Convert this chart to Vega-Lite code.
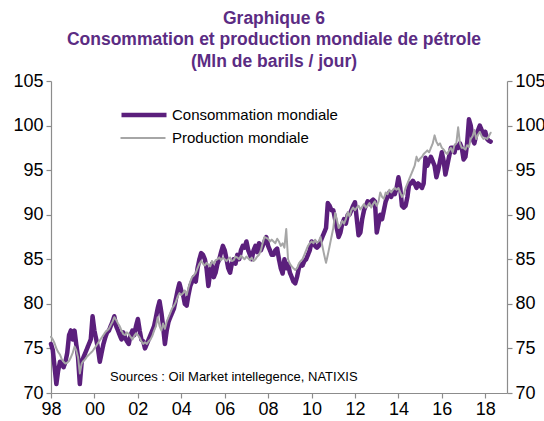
{
  "$schema": "https://vega.github.io/schema/vega-lite/v6.json",
  "width": 456,
  "height": 312,
  "autosize": {"type": "none"},
  "padding": {"left": 51, "top": 81, "right": 37, "bottom": 28},
  "background": "white",
  "config": {
    "view": {"stroke": null},
    "font": "Liberation Sans",
    "axis": {"grid": false, "domainColor": "#8c8c8c", "tickColor": "#8c8c8c", "labelColor": "#000000", "labelFont": "Liberation Sans", "labelFontSize": 18, "tickSize": 5, "domainWidth": 1.2, "tickWidth": 1.2, "title": null}
  },
  "title": {
    "text": ["Graphique 6", "Consommation et production mondiale de pétrole", "(Mln de barils / jour)"],
    "font": "Liberation Sans",
    "fontSize": 17.5,
    "fontWeight": "bold",
    "color": "#5B2C83",
    "anchor": "middle",
    "lineHeight": 21.5,
    "offset": 2,
    "dx": -5
  },
  "datasets": {
    "oil": [
      {"d":"1998-01-01","c":75.5,"p":76.3},{"d":"1998-02-01","c":74.8,"p":76.0},{"d":"1998-03-01","c":73.0,"p":75.6},{"d":"1998-04-01","c":71.0,"p":75.0},{"d":"1998-05-01","c":72.5,"p":74.6},{"d":"1998-06-01","c":73.5,"p":74.3},{"d":"1998-07-01","c":73.2,"p":73.8},{"d":"1998-08-01","c":72.9,"p":73.5},{"d":"1998-09-01","c":73.5,"p":73.3},{"d":"1998-10-01","c":74.5,"p":73.4},{"d":"1998-11-01","c":76.5,"p":73.6},{"d":"1998-12-01","c":77.0,"p":74.0},
      {"d":"1999-01-01","c":76.0,"p":74.5},{"d":"1999-02-01","c":77.0,"p":75.2},{"d":"1999-03-01","c":75.5,"p":74.8},{"d":"1999-04-01","c":74.0,"p":74.0},{"d":"1999-05-01","c":71.0,"p":72.2},{"d":"1999-06-01","c":73.5,"p":73.3},{"d":"1999-07-01","c":74.0,"p":73.6},{"d":"1999-08-01","c":74.5,"p":73.8},{"d":"1999-09-01","c":75.0,"p":74.1},{"d":"1999-10-01","c":75.5,"p":74.3},{"d":"1999-11-01","c":76.0,"p":74.5},{"d":"1999-12-01","c":78.6,"p":74.7},
      {"d":"2000-01-01","c":77.0,"p":75.0},{"d":"2000-02-01","c":76.0,"p":75.3},{"d":"2000-03-01","c":75.0,"p":75.6},{"d":"2000-04-01","c":73.5,"p":75.9},{"d":"2000-05-01","c":74.5,"p":76.2},{"d":"2000-06-01","c":75.5,"p":76.5},{"d":"2000-07-01","c":76.2,"p":76.8},{"d":"2000-08-01","c":76.8,"p":77.0},{"d":"2000-09-01","c":77.0,"p":77.2},{"d":"2000-10-01","c":77.5,"p":77.6},{"d":"2000-11-01","c":78.0,"p":78.0},{"d":"2000-12-01","c":78.6,"p":78.5},
      {"d":"2001-01-01","c":77.5,"p":78.2},{"d":"2001-02-01","c":77.0,"p":77.8},{"d":"2001-03-01","c":76.5,"p":77.5},{"d":"2001-04-01","c":76.0,"p":77.0},{"d":"2001-05-01","c":76.8,"p":76.6},{"d":"2001-06-01","c":76.2,"p":76.5},{"d":"2001-07-01","c":75.8,"p":76.8},{"d":"2001-08-01","c":75.5,"p":76.6},{"d":"2001-09-01","c":76.5,"p":76.3},{"d":"2001-10-01","c":77.0,"p":76.0},{"d":"2001-11-01","c":76.5,"p":76.4},{"d":"2001-12-01","c":77.5,"p":76.7},
      {"d":"2002-01-01","c":78.3,"p":76.5},{"d":"2002-02-01","c":77.0,"p":76.2},{"d":"2002-03-01","c":76.0,"p":75.8},{"d":"2002-04-01","c":75.8,"p":75.5},{"d":"2002-05-01","c":75.0,"p":75.7},{"d":"2002-06-01","c":75.5,"p":75.5},{"d":"2002-07-01","c":76.0,"p":75.8},{"d":"2002-08-01","c":76.5,"p":76.0},{"d":"2002-09-01","c":77.0,"p":76.4},{"d":"2002-10-01","c":77.5,"p":77.0},{"d":"2002-11-01","c":78.5,"p":77.5},{"d":"2002-12-01","c":79.5,"p":78.5},
      {"d":"2003-01-01","c":80.3,"p":77.5},{"d":"2003-02-01","c":79.0,"p":77.0},{"d":"2003-03-01","c":77.5,"p":77.8},{"d":"2003-04-01","c":75.5,"p":77.2},{"d":"2003-05-01","c":77.0,"p":78.0},{"d":"2003-06-01","c":78.0,"p":78.5},{"d":"2003-07-01","c":78.5,"p":79.0},{"d":"2003-08-01","c":79.0,"p":79.5},{"d":"2003-09-01","c":79.5,"p":79.8},{"d":"2003-10-01","c":80.5,"p":80.2},{"d":"2003-11-01","c":81.5,"p":80.8},{"d":"2003-12-01","c":82.3,"p":81.2},
      {"d":"2004-01-01","c":81.5,"p":81.0},{"d":"2004-02-01","c":81.0,"p":81.2},{"d":"2004-03-01","c":80.0,"p":81.5},{"d":"2004-04-01","c":79.8,"p":81.0},{"d":"2004-05-01","c":81.0,"p":81.8},{"d":"2004-06-01","c":82.0,"p":82.5},{"d":"2004-07-01","c":82.5,"p":83.0},{"d":"2004-08-01","c":83.0,"p":83.2},{"d":"2004-09-01","c":82.5,"p":83.5},{"d":"2004-10-01","c":84.0,"p":84.0},{"d":"2004-11-01","c":85.0,"p":84.5},{"d":"2004-12-01","c":85.7,"p":84.8},
      {"d":"2005-01-01","c":85.5,"p":84.5},{"d":"2005-02-01","c":85.0,"p":84.3},{"d":"2005-03-01","c":84.0,"p":84.6},{"d":"2005-04-01","c":82.0,"p":84.4},{"d":"2005-05-01","c":83.5,"p":84.2},{"d":"2005-06-01","c":84.5,"p":84.8},{"d":"2005-07-01","c":83.0,"p":84.5},{"d":"2005-08-01","c":83.5,"p":84.9},{"d":"2005-09-01","c":84.5,"p":85.0},{"d":"2005-10-01","c":85.0,"p":85.2},{"d":"2005-11-01","c":85.8,"p":84.9},{"d":"2005-12-01","c":86.5,"p":85.2},
      {"d":"2006-01-01","c":86.0,"p":85.0},{"d":"2006-02-01","c":85.0,"p":84.8},{"d":"2006-03-01","c":84.0,"p":85.0},{"d":"2006-04-01","c":83.5,"p":85.2},{"d":"2006-05-01","c":84.5,"p":84.8},{"d":"2006-06-01","c":85.0,"p":84.9},{"d":"2006-07-01","c":84.5,"p":85.3},{"d":"2006-08-01","c":85.5,"p":85.2},{"d":"2006-09-01","c":85.0,"p":85.0},{"d":"2006-10-01","c":86.0,"p":85.4},{"d":"2006-11-01","c":86.5,"p":85.2},{"d":"2006-12-01","c":86.3,"p":85.0},
      {"d":"2007-01-01","c":87.0,"p":85.3},{"d":"2007-02-01","c":86.0,"p":85.1},{"d":"2007-03-01","c":85.5,"p":84.9},{"d":"2007-04-01","c":85.0,"p":85.2},{"d":"2007-05-01","c":86.0,"p":84.8},{"d":"2007-06-01","c":86.5,"p":85.0},{"d":"2007-07-01","c":85.8,"p":85.3},{"d":"2007-08-01","c":86.8,"p":85.5},{"d":"2007-09-01","c":86.0,"p":86.0},{"d":"2007-10-01","c":86.5,"p":86.8},{"d":"2007-11-01","c":87.0,"p":87.5},{"d":"2007-12-01","c":87.5,"p":87.4},
      {"d":"2008-01-01","c":86.5,"p":87.3},{"d":"2008-02-01","c":86.0,"p":87.0},{"d":"2008-03-01","c":85.5,"p":87.2},{"d":"2008-04-01","c":85.5,"p":87.0},{"d":"2008-05-01","c":86.0,"p":86.8},{"d":"2008-06-01","c":86.2,"p":87.3},{"d":"2008-07-01","c":85.0,"p":87.0},{"d":"2008-08-01","c":84.0,"p":86.5},{"d":"2008-09-01","c":83.4,"p":86.8},{"d":"2008-10-01","c":85.0,"p":86.3},{"d":"2008-11-01","c":84.0,"p":88.4},{"d":"2008-12-01","c":84.5,"p":85.0},
      {"d":"2009-01-01","c":83.5,"p":84.5},{"d":"2009-02-01","c":83.0,"p":84.2},{"d":"2009-03-01","c":82.5,"p":84.0},{"d":"2009-04-01","c":82.3,"p":83.8},{"d":"2009-05-01","c":83.0,"p":84.0},{"d":"2009-06-01","c":84.0,"p":84.5},{"d":"2009-07-01","c":84.5,"p":84.8},{"d":"2009-08-01","c":84.3,"p":85.0},{"d":"2009-09-01","c":84.8,"p":85.5},{"d":"2009-10-01","c":85.0,"p":86.0},{"d":"2009-11-01","c":85.5,"p":86.5},{"d":"2009-12-01","c":86.0,"p":86.8},
      {"d":"2010-01-01","c":87.0,"p":87.0},{"d":"2010-02-01","c":86.8,"p":86.8},{"d":"2010-03-01","c":86.5,"p":87.2},{"d":"2010-04-01","c":86.3,"p":86.9},{"d":"2010-05-01","c":86.5,"p":87.0},{"d":"2010-06-01","c":87.0,"p":87.5},{"d":"2010-07-01","c":87.5,"p":86.5},{"d":"2010-08-01","c":88.0,"p":85.5},{"d":"2010-09-01","c":88.5,"p":84.6},{"d":"2010-10-01","c":91.3,"p":85.5},{"d":"2010-11-01","c":91.0,"p":86.5},{"d":"2010-12-01","c":90.5,"p":87.5},
      {"d":"2011-01-01","c":90.5,"p":88.5},{"d":"2011-02-01","c":89.5,"p":90.2},{"d":"2011-03-01","c":88.5,"p":89.5},{"d":"2011-04-01","c":87.5,"p":88.5},{"d":"2011-05-01","c":88.0,"p":88.8},{"d":"2011-06-01","c":89.0,"p":89.3},{"d":"2011-07-01","c":89.5,"p":89.0},{"d":"2011-08-01","c":89.0,"p":89.5},{"d":"2011-09-01","c":90.0,"p":90.3},{"d":"2011-10-01","c":90.0,"p":89.8},{"d":"2011-11-01","c":90.5,"p":90.5},{"d":"2011-12-01","c":91.0,"p":90.8},
      {"d":"2012-01-01","c":91.4,"p":90.5},{"d":"2012-02-01","c":89.5,"p":90.8},{"d":"2012-03-01","c":87.7,"p":91.0},{"d":"2012-04-01","c":88.0,"p":90.6},{"d":"2012-05-01","c":89.5,"p":90.9},{"d":"2012-06-01","c":90.5,"p":91.2},{"d":"2012-07-01","c":91.0,"p":90.8},{"d":"2012-08-01","c":91.5,"p":91.0},{"d":"2012-09-01","c":91.2,"p":91.3},{"d":"2012-10-01","c":91.5,"p":90.8},{"d":"2012-11-01","c":91.7,"p":91.2},{"d":"2012-12-01","c":91.5,"p":91.5},
      {"d":"2013-01-01","c":88.0,"p":91.0},{"d":"2013-02-01","c":89.0,"p":91.5},{"d":"2013-03-01","c":90.0,"p":92.5},{"d":"2013-04-01","c":89.5,"p":92.0},{"d":"2013-05-01","c":90.5,"p":91.8},{"d":"2013-06-01","c":91.5,"p":92.5},{"d":"2013-07-01","c":92.0,"p":92.3},{"d":"2013-08-01","c":92.5,"p":92.8},{"d":"2013-09-01","c":92.0,"p":92.5},{"d":"2013-10-01","c":92.5,"p":92.8},{"d":"2013-11-01","c":92.3,"p":93.0},{"d":"2013-12-01","c":93.0,"p":92.8},
      {"d":"2014-01-01","c":94.2,"p":93.0},{"d":"2014-02-01","c":93.0,"p":92.5},{"d":"2014-03-01","c":91.0,"p":92.0},{"d":"2014-04-01","c":90.8,"p":92.3},{"d":"2014-05-01","c":91.0,"p":93.0},{"d":"2014-06-01","c":92.0,"p":93.5},{"d":"2014-07-01","c":93.5,"p":94.0},{"d":"2014-08-01","c":93.5,"p":94.5},{"d":"2014-09-01","c":93.8,"p":95.0},{"d":"2014-10-01","c":93.5,"p":95.5},{"d":"2014-11-01","c":93.0,"p":96.5},{"d":"2014-12-01","c":93.5,"p":96.0},
      {"d":"2015-01-01","c":93.3,"p":96.3},{"d":"2015-02-01","c":93.0,"p":96.5},{"d":"2015-03-01","c":93.5,"p":96.8},{"d":"2015-04-01","c":96.4,"p":97.0},{"d":"2015-05-01","c":95.5,"p":97.2},{"d":"2015-06-01","c":96.0,"p":97.0},{"d":"2015-07-01","c":96.5,"p":97.5},{"d":"2015-08-01","c":96.0,"p":98.0},{"d":"2015-09-01","c":95.5,"p":98.9},{"d":"2015-10-01","c":94.2,"p":98.2},{"d":"2015-11-01","c":95.0,"p":97.8},{"d":"2015-12-01","c":96.0,"p":98.0},
      {"d":"2016-01-01","c":97.0,"p":97.5},{"d":"2016-02-01","c":96.0,"p":97.3},{"d":"2016-03-01","c":94.5,"p":97.0},{"d":"2016-04-01","c":95.5,"p":96.8},{"d":"2016-05-01","c":96.5,"p":97.2},{"d":"2016-06-01","c":97.5,"p":97.5},{"d":"2016-07-01","c":97.5,"p":97.0},{"d":"2016-08-01","c":97.0,"p":97.8},{"d":"2016-09-01","c":97.8,"p":98.0},{"d":"2016-10-01","c":97.5,"p":99.8},{"d":"2016-11-01","c":98.0,"p":98.0},{"d":"2016-12-01","c":97.5,"p":97.5},
      {"d":"2017-01-01","c":96.2,"p":97.5},{"d":"2017-02-01","c":96.5,"p":97.3},{"d":"2017-03-01","c":98.0,"p":97.8},{"d":"2017-04-01","c":100.7,"p":97.6},{"d":"2017-05-01","c":100.0,"p":98.5},{"d":"2017-06-01","c":98.5,"p":98.8},{"d":"2017-07-01","c":98.0,"p":99.5},{"d":"2017-08-01","c":99.0,"p":98.5},{"d":"2017-09-01","c":99.5,"p":99.0},{"d":"2017-10-01","c":100.0,"p":99.3},{"d":"2017-11-01","c":99.5,"p":98.8},{"d":"2017-12-01","c":99.0,"p":98.5},
      {"d":"2018-01-01","c":99.3,"p":98.6},{"d":"2018-02-01","c":98.5,"p":98.5},{"d":"2018-03-01","c":98.3,"p":98.8},{"d":"2018-04-01","c":98.2,"p":99.2}
    ],
    "note": [{"t": "Sources : Oil Market intellegence, NATIXIS", "x": "2000-09-20", "y": 71.8}]
  },
  "resolve": {"axis": {"y": "independent"}},
  "layer": [
    {
      "data": {"name": "oil"},
      "transform": [
        {"fold": ["c", "p"], "as": ["k", "v"]},
        {"lookup": "k", "from": {"data": {"values": [{"k": "c", "serie": "Consommation mondiale", "trait": "Consommation mondiale"}, {"k": "p", "serie": "Production mondiale", "trait": "Production mondiale"}]}, "key": "k", "fields": ["serie", "trait"]}}
      ],
      "mark": {"type": "line", "strokeJoin": "round", "strokeCap": "round"},
      "encoding": {
        "x": {"field": "d", "type": "temporal", "scale": {"domain": ["1998-01-01", "2019-01-01"], "nice": false},
              "axis": {"format": "%y", "values": ["1998-01-01","2000-01-01","2002-01-01","2004-01-01","2006-01-01","2008-01-01","2010-01-01","2012-01-01","2014-01-01","2016-01-01","2018-01-01"], "labelPadding": 2, "labelFlush": false}},
        "y": {"field": "v", "type": "quantitative", "scale": {"domain": [70, 105], "nice": false, "zero": false},
              "axis": {"orient": "left", "values": [70, 75, 80, 85, 90, 95, 100, 105], "labelPadding": 3}},
        "color": {"field": "serie", "type": "nominal", "scale": {"domain": ["Consommation mondiale", "Production mondiale"], "range": ["#5B1F7C", "#A6A6A6"]},
                  "legend": {"title": null, "orient": "none", "legendX": 68, "legendY": 9, "values": ["Consommation mondiale"], "labelFontSize": 15, "labelLimit": 0, "labelFont": "Liberation Sans", "labelColor": "#000000", "symbolType": "stroke", "symbolSize": 2025, "symbolStrokeWidth": 5, "labelOffset": 3}},
        "strokeWidth": {"field": "serie", "type": "nominal", "scale": {"domain": ["Consommation mondiale", "Production mondiale"], "range": [4.5, 2]}, "legend": null},
        "strokeDash": {"field": "trait", "type": "nominal", "scale": {"domain": ["Production mondiale", "Consommation mondiale"], "range": [[1, 0], [1, 0]]},
                  "legend": {"title": null, "orient": "none", "legendX": 68, "legendY": 33, "values": ["Production mondiale"], "labelFontSize": 15, "labelLimit": 0, "labelFont": "Liberation Sans", "labelColor": "#000000", "symbolType": "stroke", "symbolSize": 2025, "symbolStrokeColor": "#A6A6A6", "symbolStrokeWidth": 2.2, "labelOffset": 5}}
      }
    },
    {
      "data": {"name": "note"},
      "mark": {"type": "text", "align": "left", "baseline": "middle", "fontSize": 13, "font": "Liberation Sans", "color": "#000000"},
      "encoding": {
        "text": {"field": "t"},
        "x": {"field": "x", "type": "temporal"},
        "y": {"field": "y", "type": "quantitative", "axis": {"orient": "right", "values": [70, 75, 80, 85, 90, 95, 100, 105], "labelPadding": 3}}
      }
    }
  ]
}
